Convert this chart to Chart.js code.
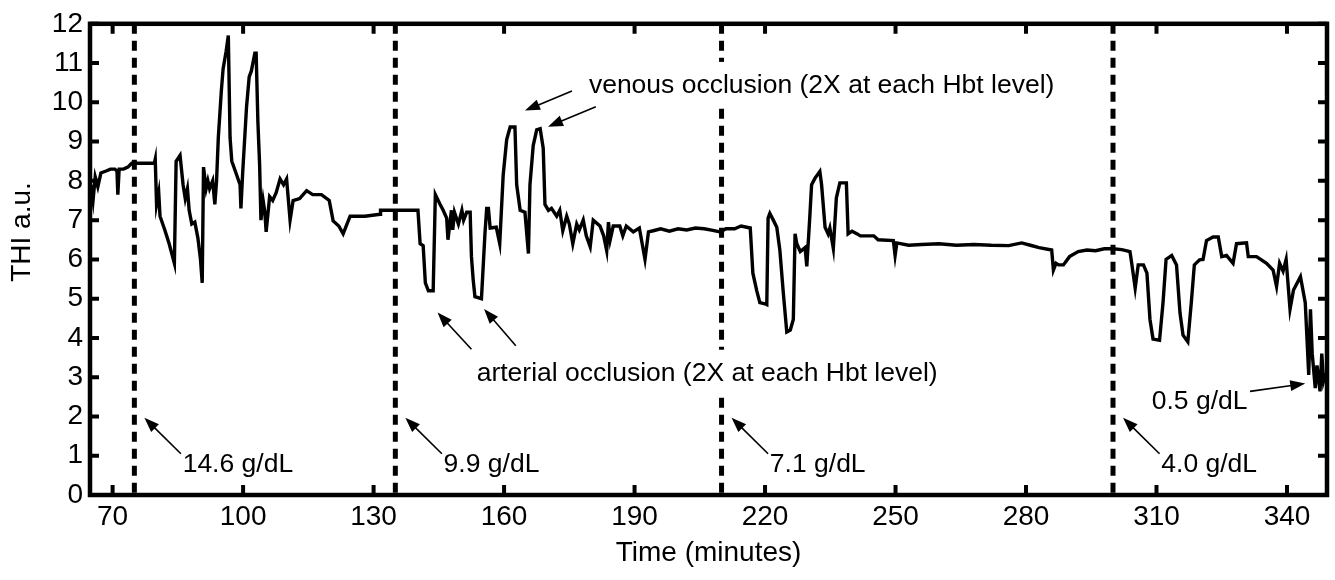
<!DOCTYPE html>
<html>
<head>
<meta charset="utf-8">
<script src="https://cdn.jsdelivr.net/npm/chart.js@4.4.1/dist/chart.umd.min.js"></script>
<style>
  html, body { margin: 0; padding: 0; background: #fff; }
  #wrap { width: 1335px; height: 580px; }
</style>
</head>
<body>
<div id="wrap"><canvas id="thiChart"></canvas></div>
<script>
// time in minutes
const times = [
  65.0, 65.5, 66.0, 66.6, 67.3, 68.5, 69.5, 70.5, 71.0, 71.2, 71.5, 72.5, 73.5, 74.4, 77.0, 79.6, 79.8, 80.1, 80.6, 80.9,
  82.0, 83.0, 84.2, 84.6, 85.5, 86.2, 86.7, 87.2, 87.6, 88.2, 88.9, 89.6, 90.2, 90.6, 90.9, 91.5, 91.9, 92.3, 93.0, 93.5,
  93.9, 94.3, 95.0, 95.4, 96.1, 96.6, 97.0, 97.4, 98.2, 99.3, 99.5, 99.9, 100.8, 101.4, 101.9, 102.7, 103.0, 103.4, 103.8, 104.1,
  104.6, 105.0, 105.3, 106.1, 106.8, 107.6, 108.5, 109.3, 110.0, 110.8, 111.5, 113.0, 114.6, 116.0, 118.0, 119.8, 120.7, 122.0, 123.0, 124.6,
  128.0, 131.5, 131.6, 136.0, 140.2, 140.7, 141.4, 141.9, 142.6, 143.7, 144.2, 145.3, 146.0, 146.8, 147.1, 147.9, 148.2, 148.6, 149.5, 150.3,
  150.7, 151.4, 152.2, 152.5, 152.9, 153.3, 154.8, 155.6, 156.0, 156.4, 156.8, 158.2, 159.0, 159.8, 160.6, 161.4, 162.5, 162.9, 163.7, 164.8,
  165.6, 165.95, 166.7, 167.5, 168.3, 169.0, 169.4, 170.2, 170.9, 172.1, 172.8, 173.5, 174.4, 175.0, 175.8, 176.7, 177.3, 178.2, 178.9, 179.8,
  180.5, 182.05, 182.9, 183.6, 184.0, 184.4, 185.1, 186.6, 187.3, 188.1, 189.7, 191.1, 192.4, 193.2, 194.3, 196.0, 198.0, 200.0, 202.0, 204.0,
  206.0, 208.0, 209.7, 211.0, 213.0, 214.5, 216.6, 217.2, 218.1, 218.8, 220.0, 220.4, 220.7, 221.1, 221.9, 222.7, 223.4, 224.2, 225.0, 225.8,
  226.5, 226.9, 227.3, 228.1, 229.2, 229.6, 230.3, 230.7, 231.5, 232.6, 233.0, 233.8, 234.5, 234.9, 235.7, 236.4, 237.2, 238.7, 239.1, 240.0,
  241.2, 241.9, 245.0, 246.0, 249.5, 249.9, 250.3, 253.0, 256.0, 260.0, 264.0, 268.0, 272.0, 276.0, 279.0, 281.0, 283.0, 285.9, 286.3, 286.9,
  287.5, 288.6, 290.0, 292.0, 294.0, 296.0, 298.0, 300.0, 302.0, 303.9, 304.3, 305.1, 305.8, 307.0, 307.8, 308.5, 309.2, 310.7, 311.5, 312.2,
  313.5, 314.6, 315.4, 316.1, 317.2, 318.0, 318.7, 319.9, 320.7, 321.5, 323.0, 324.2, 325.0, 326.1, 327.6, 328.4, 330.7, 331.1, 333.0, 335.3,
  336.8, 337.6, 338.3, 339.1, 339.8, 340.7, 341.5, 343.1, 344.2, 345.0, 345.4, 345.8, 346.5, 346.9, 347.6, 348.0, 348.4, 348.9
];
const thi = [
  7.9, 7.5, 8.1, 7.85, 8.2, 8.25, 8.3, 8.3, 8.25, 7.65, 8.3, 8.3, 8.35, 8.45, 8.45, 8.45, 8.55, 7.4, 7.7, 7.1,
  6.75, 6.4, 5.9, 8.5, 8.65, 7.9, 7.55, 7.8, 7.25, 6.9, 6.95, 6.55, 6.0, 5.4, 8.35, 7.8, 8.0, 7.8, 8.0, 7.4,
  8.0, 9.1, 10.3, 10.85, 11.3, 11.7, 9.1, 8.5, 8.25, 7.9, 7.3, 8.2, 9.9, 10.65, 10.8, 11.25, 11.25, 9.5, 8.4, 7.0,
  7.5, 7.2, 6.7, 7.6, 7.5, 7.7, 8.05, 7.9, 8.05, 7.0, 7.5, 7.55, 7.75, 7.65, 7.65, 7.5, 6.98, 6.85, 6.65, 7.1,
  7.1, 7.15, 7.25, 7.25, 7.25, 6.4, 6.35, 5.4, 5.2, 5.2, 7.65, 7.4, 7.25, 7.05, 6.5, 7.25, 6.75, 7.2, 6.9, 7.25,
  7.0, 7.2, 7.2, 6.07, 5.48, 5.05, 5.0, 6.65, 7.3, 7.3, 6.8, 6.82, 6.4, 8.15, 9.05, 9.37, 9.37, 7.9, 7.25, 7.2,
  6.15, 7.9, 8.9, 9.3, 9.33, 8.83, 7.4, 7.25, 7.3, 7.1, 7.25, 6.73, 7.1, 6.9, 6.4, 6.9, 6.75, 7.0, 6.6, 6.32,
  7.0, 6.85, 6.6, 6.22, 6.95, 6.5, 6.85, 6.85, 6.6, 6.85, 6.7, 6.8, 6.0, 6.7, 6.73, 6.78, 6.72, 6.78, 6.75, 6.8,
  6.78, 6.74, 6.7, 6.78, 6.78, 6.85, 6.8, 5.65, 5.2, 4.9, 4.87, 4.85, 7.05, 7.17, 7.0, 6.82, 6.24, 5.15, 4.15, 4.2,
  4.47, 6.65, 6.4, 6.2, 6.3, 5.82, 7.1, 7.9, 8.07, 8.24, 7.9, 6.82, 6.65, 6.8, 6.28, 7.57, 7.95, 7.95, 6.65, 6.72,
  6.65, 6.6, 6.6, 6.5, 6.48, 6.1, 6.42, 6.36, 6.38, 6.4, 6.36, 6.38, 6.36, 6.35, 6.42, 6.36, 6.3, 6.24, 5.73, 5.9,
  5.86, 5.86, 6.07, 6.2, 6.24, 6.22, 6.27, 6.27, 6.25, 6.2, 5.9, 5.27, 5.86, 5.86, 5.65, 4.47, 3.97, 3.94, 4.9, 6.0,
  6.1, 5.86, 4.64, 4.07, 3.9, 4.9, 5.86, 5.99, 6.0, 6.48, 6.57, 6.57, 6.07, 6.1, 5.9, 6.4, 6.42, 6.07, 6.07, 5.9,
  5.73, 5.31, 5.9, 5.7, 6.0, 4.73, 5.22, 5.56, 4.9, 3.06, 4.73, 3.6, 2.72, 3.3, 2.64, 3.6, 2.9, 3.1
];

const xTicks = [70, 100, 130, 160, 190, 220, 250, 280, 310, 340];
const yTicks = [0, 1, 2, 3, 4, 5, 6, 7, 8, 9, 10, 11, 12];

// haemoglobin level changes
const hbtTimes = [75, 135, 210, 300];
const hbtLabels = ['14.6 g/dL', '9.9 g/dL', '7.1 g/dL', '4.0 g/dL'];

// text notes (baseline position, data units); boxed ones hide the dashed line behind them
const notes = [
  { text: 'venous occlusion (2X at each Hbt level)', x: 179.5, y: 10.24, boxed: true },
  { text: 'arterial occlusion (2X at each Hbt level)', x: 153.7, y: 2.91, boxed: true },
  { text: '0.5 g/dL', x: 308.9, y: 2.18, boxed: false }
];
const arrows = [
  [175.6, 10.29, 164.8, 9.79],
  [181.1, 9.89, 170.1, 9.38],
  [152.5, 3.71, 144.7, 4.65],
  [162.7, 3.80, 155.4, 4.74],
  [331.5, 2.64, 344.2, 2.84]
];

const FONT = "'Liberation Sans', Arial, sans-serif";
Chart.defaults.font.family = FONT;
Chart.defaults.color = '#000';

function drawArrow(ctx, x0, y0, x1, y1) {
  const ang = Math.atan2(y1 - y0, x1 - x0);
  const hl = 15, hw = 5.5;
  ctx.lineWidth = 1.6;
  ctx.beginPath();
  ctx.moveTo(x0, y0);
  ctx.lineTo(x1 - Math.cos(ang) * hl * 0.8, y1 - Math.sin(ang) * hl * 0.8);
  ctx.stroke();
  ctx.beginPath();
  ctx.moveTo(x1, y1);
  ctx.lineTo(x1 - hl * Math.cos(ang) + hw * Math.sin(ang), y1 - hl * Math.sin(ang) - hw * Math.cos(ang));
  ctx.lineTo(x1 - hl * Math.cos(ang) - hw * Math.sin(ang), y1 - hl * Math.sin(ang) + hw * Math.cos(ang));
  ctx.closePath();
  ctx.fill();
}

const frameAndNotes = {
  id: 'frameAndNotes',
  afterDraw(chart) {
    const { ctx, chartArea: a, scales: { x, y } } = chart;
    ctx.save();
    ctx.strokeStyle = '#000';
    ctx.fillStyle = '#000';

    // inward ticks on all four sides
    ctx.lineWidth = 4;
    ctx.beginPath();
    xTicks.forEach(v => {
      const px = x.getPixelForValue(v);
      ctx.moveTo(px, a.bottom); ctx.lineTo(px, a.bottom - 10);
      ctx.moveTo(px, a.top); ctx.lineTo(px, a.top + 10);
    });
    yTicks.forEach(v => {
      const py = y.getPixelForValue(v);
      ctx.moveTo(a.left, py); ctx.lineTo(a.left + 9, py);
      ctx.moveTo(a.right, py); ctx.lineTo(a.right - 9, py);
    });
    ctx.stroke();

    ctx.lineWidth = 4.5;
    ctx.strokeRect(a.left, a.top, a.right - a.left, a.bottom - a.top);

    // notes
    ctx.font = '26.5px ' + FONT;
    ctx.textAlign = 'left';
    ctx.textBaseline = 'alphabetic';
    notes.forEach(n => {
      const px = x.getPixelForValue(n.x), py = y.getPixelForValue(n.y);
      if (n.boxed) {
        const w = ctx.measureText(n.text).width;
        ctx.fillStyle = '#fff';
        ctx.fillRect(px - 4, py - 31, w + 8, 44);
        ctx.fillStyle = '#000';
      }
      ctx.fillText(n.text, px, py);
    });
    hbtTimes.forEach((t, i) => {
      ctx.fillText(hbtLabels[i], x.getPixelForValue(t + 11.1), y.getPixelForValue(0.58));
      drawArrow(ctx, x.getPixelForValue(t + 10.7), y.getPixelForValue(1.05),
                     x.getPixelForValue(t + 2.3), y.getPixelForValue(1.97));
    });
    arrows.forEach(r => drawArrow(ctx, x.getPixelForValue(r[0]), y.getPixelForValue(r[1]),
                                       x.getPixelForValue(r[2]), y.getPixelForValue(r[3])));

    // axis titles
    ctx.font = '28px ' + FONT;
    ctx.textAlign = 'center';
    ctx.textBaseline = 'middle';
    ctx.fillText('Time (minutes)', (a.left + a.right) / 2, 553);
    ctx.translate(22, 232);
    ctx.rotate(-Math.PI / 2);
    ctx.fillText('THI a.u.', 0, 0);
    ctx.restore();
  }
};

const datasets = [{
  data: times.map((t, i) => ({ x: t, y: thi[i] })),
  borderColor: '#000',
  borderWidth: 3.4,
  pointRadius: 0,
  tension: 0,
  order: 1
}];
hbtTimes.forEach(t => datasets.push({
  data: [{ x: t, y: 12 }, { x: t, y: 0 }],
  borderColor: '#000',
  borderWidth: 5,
  borderDash: [10, 7],
  pointRadius: 0,
  order: 2
}));

new Chart(document.getElementById('thiChart'), {
  type: 'line',
  data: { datasets },
  options: {
    responsive: true,
    maintainAspectRatio: false,
    animation: false,
    layout: { padding: { top: 17, right: 8, left: 0, bottom: 0 } },
    plugins: { legend: { display: false }, tooltip: { enabled: false } },
    scales: {
      x: {
        type: 'linear',
        min: 64.8,
        max: 349.2,
        afterBuildTicks: s => { s.ticks = xTicks.map(v => ({ value: v })); },
        afterFit: s => { s.height = 85; },
        grid: { display: false, drawTicks: false },
        border: { display: false },
        ticks: { font: { size: 28 }, padding: 5, maxRotation: 0 }
      },
      y: {
        min: 0,
        max: 12,
        afterBuildTicks: s => { s.ticks = yTicks.map(v => ({ value: v })); },
        afterFit: s => { s.width = 90; },
        grid: { display: false, drawTicks: false },
        border: { display: false },
        ticks: { font: { size: 28 }, padding: 7 }
      }
    }
  },
  plugins: [frameAndNotes]
});
</script>
</body>
</html>
